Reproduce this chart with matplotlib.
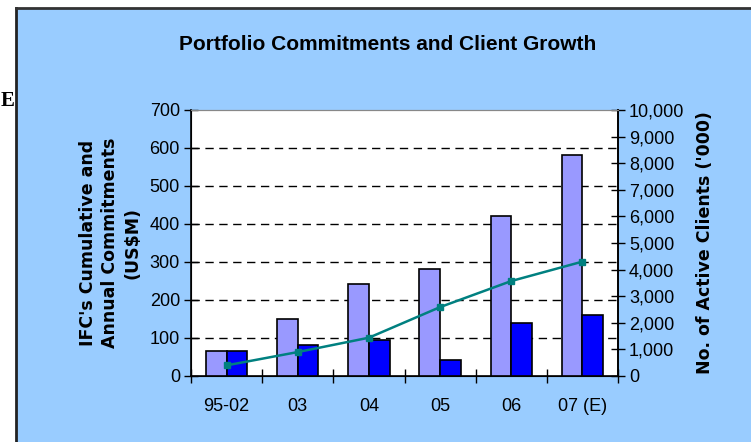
import matplotlib
matplotlib.use("Agg")
import matplotlib.pyplot as plt
from matplotlib.patches import Rectangle
from matplotlib.lines import Line2D
import numpy as np

# data
categories = ["95-02", "03", "04", "05", "06", "07 (E)"]
cumulative = [67, 150, 243, 282, 422, 581]      # US$M, light bars
annual = [67, 82, 94, 43, 140, 160]             # US$M, dark bars
clients = [400, 900, 1440, 2590, 3570, 4300]    # '000, line

left_ticks = list(range(0, 701, 100))
right_ticks = list(range(0, 10001, 1000))

narrow = ["Liberation Sans Narrow", "Liberation Sans", "DejaVu Sans"]

fig = plt.figure(figsize=(7.51, 4.42), dpi=100)
fig.patch.set_facecolor("white")

# stray letter at the left edge
fig.text(0.5 / 751, 1 - 101 / 442, "E", family=["Liberation Serif", "DejaVu Serif"],
         fontsize=15, fontweight="bold", va="center", ha="left", zorder=0)

# blue panel
fig.patches.append(Rectangle((16 / 751, 0), 1, 1 - 8 / 442, transform=fig.transFigure,
                             facecolor="#99CCFF", edgecolor="none", zorder=1))
fig.lines.append(Line2D([16 / 751, 16 / 751], [0, 1 - 8 / 442], transform=fig.transFigure,
                        color="#222222", lw=2, zorder=2))
fig.lines.append(Line2D([16 / 751, 1], [1 - 8 / 442, 1 - 8 / 442], transform=fig.transFigure,
                        color="#333333", lw=2, zorder=2))

ax = fig.add_axes([191 / 751, 1 - 376 / 442, 427 / 751, 266 / 442], zorder=3)
ax.set_facecolor("white")

x = np.arange(1, len(categories) + 1)
w = 0.29
ax.bar(x - w / 2, cumulative, w, color="#9999FF", edgecolor="black", lw=1.2, zorder=3)
ax.bar(x + w / 2, annual, w, color="#0000FF", edgecolor="black", lw=1.2, zorder=3)

ax.set_xlim(0.5, len(categories) + 0.5)
ax.set_ylim(0, 700)
ax.set_yticks(left_ticks)
ax.set_yticklabels([str(t) for t in left_ticks], family=narrow, fontsize=13)
for t in left_ticks[1:-1]:
    ax.axhline(t, color="black", lw=1, ls=(0, (6, 4)), zorder=1)

ax.set_xticks(np.arange(0.5, len(categories) + 1, 1))
ax.set_xticklabels([])
ax.set_xticks(x, minor=True)
ax.set_xticklabels(categories, minor=True, family=narrow, fontsize=13)
ax.tick_params(axis="x", which="major", direction="inout", length=10, width=1)
ax.tick_params(axis="x", which="minor", length=0, pad=16)
ax.tick_params(axis="y", direction="inout", length=10, width=1, pad=3)

for s in ["left", "bottom", "right"]:
    ax.spines[s].set_color("black")
    ax.spines[s].set_linewidth(1.2)
ax.spines["top"].set_color("#888888")

ax.set_ylabel("IFC's Cumulative and\nAnnual Commitments\n(US$M)", family="DejaVu Sans",
              fontweight="bold", fontsize=12.5, linespacing=1.3, labelpad=6)

ax2 = ax.twinx()
ax2.plot(x, clients, color="#008080", lw=1.8, marker="s", markersize=4, zorder=4)
ax2.set_ylim(0, 10000)
ax2.set_yticks(right_ticks)
ax2.set_yticklabels([f"{t:,}" for t in right_ticks], family=narrow, fontsize=13)
ax2.tick_params(axis="y", direction="inout", length=10, width=1, pad=3)
ax2.spines["right"].set_color("black")
ax2.spines["right"].set_linewidth(1.2)
ax2.spines["top"].set_color("#888888")
ax2.set_ylabel("No. of Active Clients ('000)", family="DejaVu Sans", fontweight="bold",
               fontsize=12.5, labelpad=8)

fig.text(388 / 751, 1 - 45 / 442, "Portfolio Commitments and Client Growth", family=narrow,
         fontsize=15, fontweight="bold", ha="center", va="center", zorder=5)

fig.savefig("out.png", dpi=100)
